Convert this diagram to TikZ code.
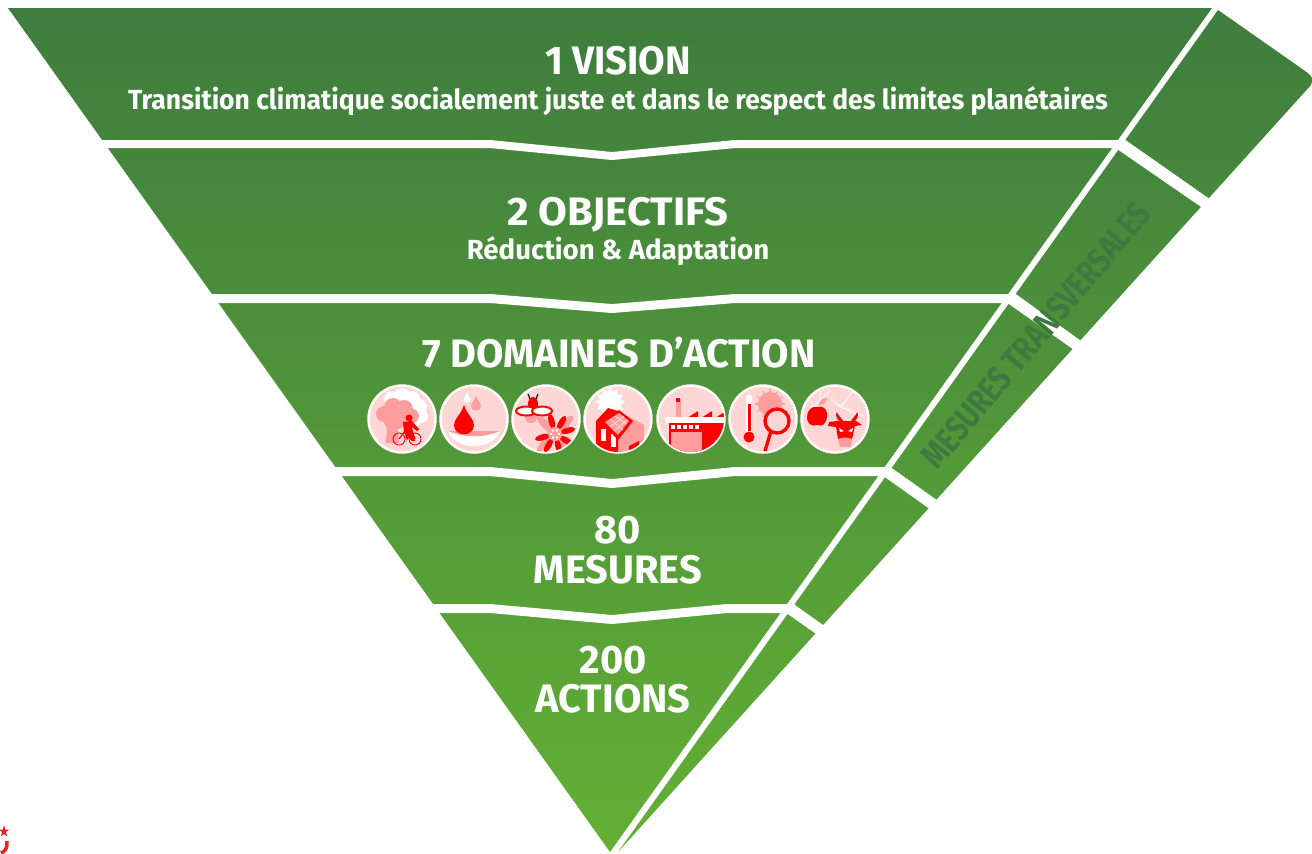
\documentclass[tikz,border=0pt]{standalone}
\usepackage{fontspec}
\setmainfont{Fira Sans}
\usetikzlibrary{positioning}

\definecolor{topgreen}{HTML}{3E7D3E}
\definecolor{lowgreen}{HTML}{63B034}
\definecolor{textgreen}{HTML}{3C7B3F}
\definecolor{iconpink}{HTML}{FFD6D6}
\definecolor{iconmid}{HTML}{FF9C9C}
\definecolor{iconred}{HTML}{FF0000}
\definecolor{logored}{HTML}{E8262A}

\tikzset{
    bigtext/.style={text=white, font=\fontsize{11.3}{13}\selectfont\bfseries, inner sep=0pt, anchor=base},
    subtext/.style={text=white, font=\fontsize{7.85}{10}\selectfont\bfseries, inner sep=0pt, anchor=base},
    gapband/.style={fill=white, draw=none},
    iconring/.style={fill=iconpink, draw=white, line width=0.7pt},
    pale/.style={fill=iconmid},
    strong/.style={fill=iconred},
    blank/.style={fill=white}
}

\newcommand{\dropshape}{(0,-15) .. controls (2,-6) and (9,-3) .. (9,4) .. controls (9,9) and (5,12) .. (0,12) .. controls (-5,12) and (-9,9) .. (-9,4) .. controls (-9,-3) and (-2,-6) .. (0,-15) -- cycle}

\begin{document}
\begin{tikzpicture}[x=0.01cm, y=-0.01cm]
    \useasboundingbox (0,0) rectangle (1312,853);

    % Pyramid and side band
    \shade[top color=topgreen, bottom color=lowgreen]
        (8,8) -- (1212,8) -- (610,852) -- cycle
        (1218,10) -- (1308,73) .. controls (1313,77) and (1313,80) .. (1311,85) -- (618,852) -- cycle;

    % Gaps between the levels
    \fill[gapband] (100,140) -- (490,140) -- (612,152) -- (735,140) -- (1125,140) -- (1119,148) -- (735,148) -- (612,160) -- (490,148) -- (106,148) -- cycle;
    \fill[gapband] (208,294) -- (490,294) -- (612,304) -- (735,294) -- (1012,294) -- (1006,303) -- (735,303) -- (612,313) -- (490,303) -- (214,303) -- cycle;
    \fill[gapband] (330,467) -- (490,467) -- (612,479) -- (735,467) -- (892,467) -- (886,476) -- (735,476) -- (612,488) -- (490,476) -- (336,476) -- cycle;
    \fill[gapband] (428,604) -- (490,604) -- (612,615) -- (727,604) -- (795,604) -- (789,613) -- (727,613) -- (612,624) -- (490,613) -- (434,613) -- cycle;

    % Cuts in the side band
    \fill[gapband] (1124,139) -- (1214,202) -- (1207,211) -- (1117,149) -- cycle;
    \fill[gapband] (1013,292) -- (1084,343) -- (1077,352) -- (1006,302) -- cycle;
    \fill[gapband] (889,466) -- (941,503) -- (934,512) -- (882,475) -- cycle;
    \fill[gapband] (792,603) -- (826,627) -- (819,636) -- (785,612) -- cycle;

    % Titles
    \node[bigtext, xscale=0.97] (vision) at (618,74) {1 VISION};
    \node[subtext, xscale=0.96] (visionsub) at (618,109) {Transition climatique socialement juste et dans le respect des limites planétaires};
    \node[bigtext, xscale=1.05] (objectifs) at (618,225) {2 OBJECTIFS};
    \node[subtext] (objectifssub) at (618,259) {Réduction \& Adaptation};
    \node[bigtext] (domaines) at (619,367) {7 DOMAINES D’ACTION};
    \node[bigtext] (nbmesures) at (618,543) {80};
    \node[bigtext] (mesures) at (618,583) {MESURES};
    \node[bigtext] (nbactions) at (613,673) {200};
    \node[bigtext] (actions) at (613,712) {ACTIONS};

    % Side label
    \node[text=textgreen, font=\fontsize{10}{11}\selectfont\bfseries, inner sep=0pt, rotate=50, xscale=0.8] (transversales) at (1036,335) {MESURES TRANSVERSALES};

    % Icon discs
    \foreach \cx in {402,474,546,618,691,763,835}
        \draw[iconring] (\cx,419) circle (33.5);

    % Tree and cyclist
    \begin{scope}[shift={(402,419)}]
        \clip (0,0) circle (33);
        \foreach \bx/\by/\br in {-10/-20/8, 0/-23/8, 10/-20/8, 17/-12/8, 19/-3/7, 12/3/6, 2/-14/12}
            \fill[blank] (\bx,\by) circle (\br);
        \foreach \bx/\by/\br in {-18/-5/8, -9/-12/9, 2/-10/9, 10/-3/7, -5/0/10, -12/3/6}
            \fill[pale] (\bx,\by) circle (\br);
        \fill[pale] (-15,5) -- (-5,5) -- (-3,24) -- (-16,24) -- cycle;
        \fill[strong] (7,-1) circle (3.5);
        \fill[strong] (1,3) -- (10,2) -- (17,10) -- (15,12) -- (10,8) -- (11,13) -- (13,22) -- (10,22) -- (2,14) -- cycle;
        \draw[iconred, line width=0.25pt] (-3,20) circle (6) (13,20) circle (6);
        \draw[iconred, line width=0.35pt] (-3,20) -- (3,12) -- (10,12) -- (13,20) (3,12) -- (5,20) -- (10,12);
    \end{scope}

    % Water
    \begin{scope}[shift={(474,419)}]
        \clip (0,0) circle (33);
        \fill[blank, shift={(-7,-21)}, scale=0.4] \dropshape;
        \fill[pale, shift={(2,-15)}, scale=0.55] \dropshape;
        \fill[blank] (-26,12) .. controls (-20,32) and (20,32) .. (26,12) -- cycle;
        \fill[pale] (-26,12) .. controls (-10,19) and (10,19) .. (26,12) -- cycle;
        \fill[strong, shift={(-10,2)}, scale=1.1] \dropshape;
    \end{scope}

    % Bee and flower
    \begin{scope}[shift={(546,419)}]
        \clip (0,0) circle (33);
        \fill[pale] (-15,-2) circle (6);
        \fill[strong] (-13,-15) ellipse [x radius=5, y radius=7];
        \draw[strong, line width=0.3pt] (-16,-20) -- (-18,-25) (-10,-20) -- (-8,-25);
        \draw[fill=white, draw=iconred, line width=0.55pt] (-20,-8) ellipse [x radius=10, y radius=4.5];
        \draw[fill=white, draw=iconred, line width=0.55pt] (-4,-8) ellipse [x radius=10, y radius=4.5];
        \foreach \pa in {0,90,180,270}
            \fill[pale, shift={(9,15)}, rotate=\pa+45] (13,0) ellipse [x radius=12, y radius=4];
        \foreach \pa in {15,60,105,195,240,285,330}
            \fill[strong, shift={(9,15)}, rotate=\pa] (13,0) ellipse [x radius=7.5, y radius=3];
        \fill[pale] (9,15) circle (7);
        \foreach \pa in {0,60,...,300}
            \fill[blank, shift={(9,15)}, rotate=\pa] (4,0) circle (1.4);
    \end{scope}

    % House and sun
    \begin{scope}[shift={(618,419)}]
        \clip (0,0) circle (33);
        \foreach \pa in {0,30,...,330}
            \fill[blank, shift={(-8,-17)}, rotate=\pa] (0,-15) -- (4,-8) -- (-4,-8) -- cycle;
        \fill[blank] (-8,-17) circle (10);
        \fill[pale] (0,-8) -- (26,6) -- (26,34) -- (-5,34) -- cycle;
        \fill[strong] (-22,2) -- (-10,-11) -- (0,-8) -- (0,34) -- (-22,34) -- cycle;
        \fill[blank] (-17,10) rectangle (-12,22);
        \fill[blank] (-7,15) rectangle (-2,28);
        \fill[strong] (-17,3) -- (1,-9) -- (15,2) -- (0,21) -- cycle;
        \fill[pale] (-13,3) -- (1,-6) -- (11,2) -- (0,16) -- cycle;
        \draw[iconpink, line width=0.25pt] (-8,0) -- (5,11) (-3,-3) -- (8,5) (-8,8) -- (6,-3) (-4,12) -- (9,1);
        \fill[strong] (11,27) -- (21,22) -- (21,34) -- (11,34) -- cycle;
    \end{scope}

    % Factory
    \begin{scope}[shift={(691,419)}]
        \clip (0,0) circle (33);
        \fill[pale] (-15,-20) rectangle (-10,-1);
        \fill[strong] (-15,-21) rectangle (-11,-17);
        \foreach \rx in {-4,10,24}
            \fill[strong] (\rx,-1) -- (\rx+11,-8) -- (\rx+11,-1) -- cycle;
        \fill[strong] (-22,4) rectangle (33,34);
        \fill[blank] (-26,-2) rectangle (34,4);
        \fill[pale] (-20,13) rectangle (11,34);
        \foreach \wx in {-20,-14,-8,-2,4}
            \fill[blank] (\wx,6) rectangle (\wx+4,10);
    \end{scope}

    % Thermometer and magnifier
    \begin{scope}[shift={(763,419)}]
        \clip (0,0) circle (33);
        \fill[pale] (7,-15) circle (12);
        \foreach \pa in {0,30,...,330}
            \draw[iconmid, line width=0.3pt, shift={(7,-15)}, rotate=\pa] (11,0) -- (15,0);
        \fill[blank] (-17,-22) .. controls (-17,-25) and (-11,-25) .. (-11,-22) -- (-11,12) -- (-17,12) -- cycle;
        \fill[strong] (-15.5,-15) rectangle (-12.5,12);
        \fill[strong] (-14,18) circle (5.5);
        \draw[fill=iconpink, draw=iconred, line width=0.95pt] (14,2) circle (12);
        \draw[iconred, line width=0.95pt] (8,12) -- (2,32);
    \end{scope}

    % Apple and bull
    \begin{scope}[shift={(835,419)}]
        \clip (0,0) circle (33);
        \draw[iconpink!40!white, line width=0.5pt] (-26,-8) -- (-16,-18) -- (-5,-28) (-16,-18) -- (-14,-28) (6,-12) -- (18,-28) (6,-12) -- (28,-3) (6,-12) -- (-4,-20);
        \fill[pale] (-16,-16) .. controls (-13,-22) and (-8,-22) .. (-8,-20) .. controls (-9,-15) and (-13,-14) .. (-16,-14) -- cycle;
        \fill[strong] (-18,-12) .. controls (-10,-14) and (-7,-8) .. (-8,-2) .. controls (-9,5) and (-13,8) .. (-18,6) .. controls (-23,8) and (-28,5) .. (-28,-2) .. controls (-28,-9) and (-23,-13) .. (-18,-12) -- cycle;
        \fill[strong] (-6,3) -- (2,2) -- (21,2) -- (27,6) -- (20,7) -- (17,20) -- (8,28) -- (3,20) -- (1,8) -- (-7,7) -- cycle;
        \fill[strong] (4,2) .. controls (0,-2) and (1,-6) .. (2,-7) .. controls (3,-3) and (6,-2) .. (8,2) -- cycle;
        \fill[strong] (20,2) .. controls (24,-2) and (23,-6) .. (22,-7) .. controls (21,-3) and (18,-2) .. (16,2) -- cycle;
        \fill[pale] (3,20) .. controls (6,18) and (14,18) .. (17,20) -- (16,28) -- (5,28) -- cycle;
        \fill[blank] (4,9) -- (9,12) -- (5,13) -- cycle (18,9) -- (13,12) -- (17,13) -- cycle;
    \end{scope}

    % Logo corner
    \fill[logored] (4,825) -- (5.3,829.5) -- (9,829.5) -- (6,832) -- (7.2,836.5) -- (4,834) -- (0.8,836.5) -- (2,832) -- (-1,829.5) -- (2.7,829.5) -- cycle;
    \draw[logored, line width=1pt] (7,841) .. controls (7,848) and (6,851) .. (1,853);
\end{tikzpicture}
\end{document}
